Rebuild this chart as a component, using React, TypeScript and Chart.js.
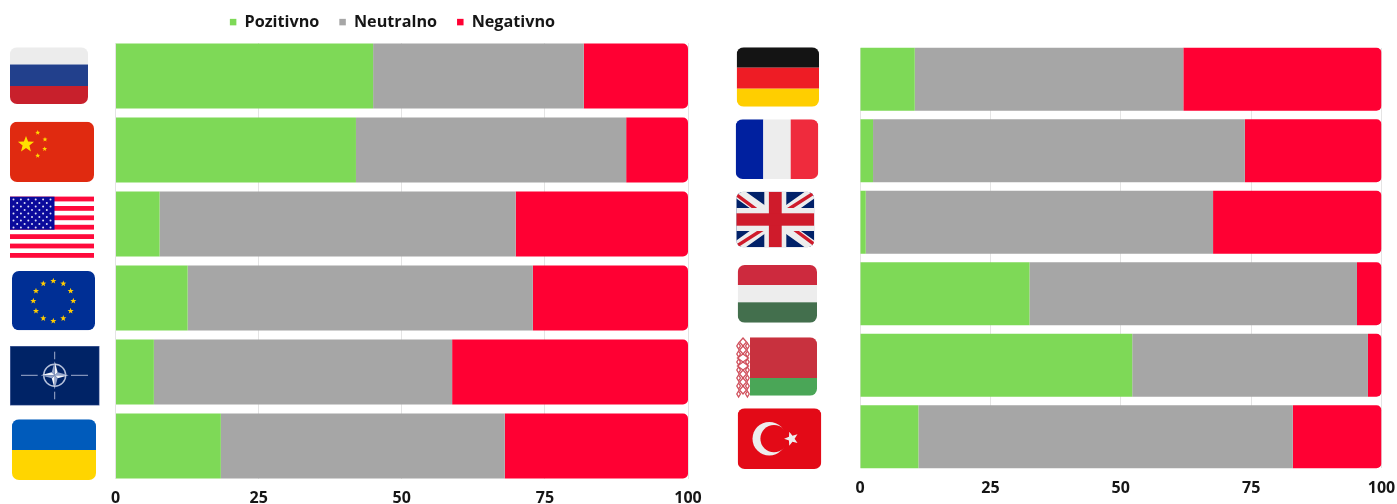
import React, { useEffect, useRef } from "react";
import { Chart, registerables } from "chart.js";

Chart.register(...registerables);

const seriesNames = ["Pozitivno", "Neutralno", "Negativno"];

const leftCategories = ["Rusija", "Kina", "SAD", "EU", "NATO", "Ukrajina"];
const leftPositive = [45, 42, 7.7, 12.6, 6.7, 18.4];
const leftNeutral = [36.8, 47.2, 62.2, 60.3, 52.1, 49.6];
const leftNegative = [18.2, 10.8, 30.1, 27.1, 41.2, 32];

const rightCategories = ["Njemačka", "Francuska", "Velika Britanija", "Mađarska", "Bjelorusija", "Turska"];
const rightPositive = [10.5, 2.5, 1.1, 32.5, 52.2, 11.2];
const rightNeutral = [51.5, 71.3, 66.6, 62.8, 45.2, 71.8];
const rightNegative = [38, 26.2, 32.3, 4.7, 2.6, 17];

const xTicks = [0, 25, 50, 75, 100];

const GREEN = "#7ED957";
const GRAY = "#A6A6A6";
const RED = "#FF0033";
const GRID = "#E4E4E4";
const TEXT = "#161616";
const FONT = "'Open Sans', sans-serif";

type C = CanvasRenderingContext2D;
type Box = [number, number, number, number]; // left, top, right, bottom on the page

function rr(ctx: C, b: Box, r: number) {
  ctx.beginPath();
  ctx.roundRect(b[0], b[1], b[2] - b[0], b[3] - b[1], r);
}
function rect(ctx: C, color: string, x0: number, y0: number, x1: number, y1: number) {
  ctx.fillStyle = color;
  ctx.fillRect(x0, y0, x1 - x0, y1 - y0);
}
function star(ctx: C, cx: number, cy: number, r: number, color: string, rot = -Math.PI / 2) {
  ctx.fillStyle = color;
  ctx.beginPath();
  for (let i = 0; i < 10; i++) {
    const rad = i % 2 === 0 ? r : r * 0.42;
    const a = rot + (i * Math.PI) / 5;
    ctx.lineTo(cx + Math.cos(a) * rad, cy + Math.sin(a) * rad);
  }
  ctx.closePath();
  ctx.fill();
}
function clipped(ctx: C, b: Box, r: number, fn: () => void) {
  ctx.save();
  rr(ctx, b, r);
  ctx.clip();
  fn();
  ctx.restore();
}

const drawRussia = (ctx: C) => {
  const b: Box = [10, 47.3, 88, 104];
  clipped(ctx, b, 7, () => {
    rect(ctx, "#ECECEC", b[0], b[1], b[2], 64.5);
    rect(ctx, "#22408C", b[0], 64.5, b[2], 86);
    rect(ctx, "#C8202C", b[0], 86, b[2], b[3]);
  });
};
const drawChina = (ctx: C) => {
  const b: Box = [10, 121.7, 94, 182];
  clipped(ctx, b, 7, () => {
    rect(ctx, "#E02A10", b[0], b[1], b[2], b[3]);
    star(ctx, 26, 144.5, 8.5, "#FFE000");
    star(ctx, 37.7, 132.7, 2.6, "#FFD800");
    star(ctx, 45, 139.5, 2.6, "#FFD800");
    star(ctx, 44.7, 149, 2.6, "#FFD800");
    star(ctx, 37.7, 155.7, 2.6, "#FFD800");
  });
};
const drawUSA = (ctx: C) => {
  const x0 = 10;
  const x1 = 94;
  for (let i = 0; i < 7; i++) {
    const cy = 199 + i * 9.4;
    rect(ctx, "#FF0A3C", x0, cy - 2.4, x1, cy + 2.4);
  }
  rect(ctx, "#0A0A9B", 10, 196.7, 54.5, 229.7);
  ctx.fillStyle = "#DDE0F5";
  for (let r = 0; r < 9; r++) {
    const n = r % 2 === 0 ? 6 : 5;
    for (let c = 0; c < n; c++) {
      const x = 13.5 + (r % 2 === 0 ? 0 : 3.7) + c * 7.4;
      const y = 199.5 + r * 3.5;
      ctx.beginPath();
      ctx.arc(x, y, 1, 0, Math.PI * 2);
      ctx.fill();
    }
  }
};
const drawEU = (ctx: C) => {
  const b: Box = [12, 271, 95, 330.3];
  clipped(ctx, b, 7, () => {
    rect(ctx, "#002F95", b[0], b[1], b[2], b[3]);
    for (let i = 0; i < 12; i++) {
      const a = (i * Math.PI) / 6;
      star(ctx, 53.3 + Math.cos(a) * 20, 301 + Math.sin(a) * 20, 3.2, "#FFCC00");
    }
  });
};
const drawNato = (ctx: C) => {
  const cx = 54.7;
  const cy = 375.3;
  rect(ctx, "#5B6EA5", 10, 346, 99.5, 405.5);
  rect(ctx, "#002366", 10.6, 346.6, 98.9, 404.9);
  ctx.strokeStyle = "#B4C0DA";
  ctx.lineWidth = 0.9;
  ctx.beginPath();
  ctx.moveTo(21, cy);
  ctx.lineTo(37.7, cy);
  ctx.moveTo(71, cy);
  ctx.lineTo(88, cy);
  ctx.moveTo(cx, 351.7);
  ctx.lineTo(cx, 359.3);
  ctx.moveTo(cx, 391.7);
  ctx.lineTo(cx, 399.3);
  ctx.stroke();
  ctx.lineWidth = 1.4;
  ctx.beginPath();
  ctx.arc(cx, cy, 11, 0, Math.PI * 2);
  ctx.stroke();
  for (let i = 0; i < 4; i++) {
    const a = (i * Math.PI) / 2;
    ctx.fillStyle = "#F4F6FB";
    ctx.beginPath();
    ctx.moveTo(cx, cy);
    ctx.lineTo(cx + Math.cos(a) * 14, cy + Math.sin(a) * 14);
    ctx.lineTo(cx + Math.cos(a + 0.78) * 4.2, cy + Math.sin(a + 0.78) * 4.2);
    ctx.closePath();
    ctx.fill();
    ctx.fillStyle = "#94A5CA";
    ctx.beginPath();
    ctx.moveTo(cx, cy);
    ctx.lineTo(cx + Math.cos(a) * 14, cy + Math.sin(a) * 14);
    ctx.lineTo(cx + Math.cos(a - 0.78) * 4.2, cy + Math.sin(a - 0.78) * 4.2);
    ctx.closePath();
    ctx.fill();
  }
};
const drawUkraine = (ctx: C) => {
  const b: Box = [12, 419.3, 96, 480];
  clipped(ctx, b, 7, () => {
    rect(ctx, "#005BBB", b[0], b[1], b[2], 450);
    rect(ctx, "#FFD500", b[0], 450, b[2], b[3]);
  });
};
const drawGermany = (ctx: C) => {
  const b: Box = [736.7, 47.3, 819, 106.7];
  clipped(ctx, b, 7, () => {
    rect(ctx, "#141414", b[0], b[1], b[2], 67.7);
    rect(ctx, "#EE1C25", b[0], 67.7, b[2], 88.7);
    rect(ctx, "#FFCE00", b[0], 88.7, b[2], b[3]);
  });
};
const drawFrance = (ctx: C) => {
  const b: Box = [735.7, 119.3, 818.3, 179];
  clipped(ctx, b, 7, () => {
    rect(ctx, "#00209F", b[0], b[1], 763.3, b[3]);
    rect(ctx, "#EDEDED", 763.3, b[1], 790.7, b[3]);
    rect(ctx, "#EF2B3D", 790.7, b[1], b[2], b[3]);
  });
};
const drawUK = (ctx: C) => {
  const b: Box = [736.3, 191.7, 814.3, 247.3];
  const cx = 775.3;
  const cy = 219.5;
  clipped(ctx, b, 7, () => {
    rect(ctx, "#012169", b[0], b[1], b[2], b[3]);
    ctx.strokeStyle = "#EDEDED";
    ctx.lineWidth = 11;
    ctx.beginPath();
    ctx.moveTo(b[0], b[1]);
    ctx.lineTo(b[2], b[3]);
    ctx.moveTo(b[2], b[1]);
    ctx.lineTo(b[0], b[3]);
    ctx.stroke();
    ctx.strokeStyle = "#CF1B2B";
    ctx.lineWidth = 3.4;
    ctx.beginPath();
    ctx.moveTo(b[0], b[1] + 3);
    ctx.lineTo(cx - 8, cy - 2);
    ctx.moveTo(b[2], b[3] - 3);
    ctx.lineTo(cx + 8, cy + 2);
    ctx.moveTo(b[2], b[1] + 1);
    ctx.lineTo(cx + 8, cy - 7);
    ctx.moveTo(b[0], b[3] - 1);
    ctx.lineTo(cx - 8, cy + 7);
    ctx.stroke();
    rect(ctx, "#EDEDED", cx - 11, b[1], cx + 11, b[3]);
    rect(ctx, "#EDEDED", b[0], cy - 11.5, b[2], cy + 11.5);
    rect(ctx, "#CF1B2B", cx - 6.4, b[1], cx + 6.4, b[3]);
    rect(ctx, "#CF1B2B", b[0], cy - 6.2, b[2], cy + 6.2);
  });
};
const drawHungary = (ctx: C) => {
  const b: Box = [737.7, 265, 817, 322.7];
  clipped(ctx, b, 7, () => {
    rect(ctx, "#CD2A3E", b[0], b[1], b[2], 285);
    rect(ctx, "#EDEDED", b[0], 285, b[2], 302.3);
    rect(ctx, "#436F4D", b[0], 302.3, b[2], b[3]);
  });
};
const drawBelarus = (ctx: C) => {
  const b: Box = [750, 337.3, 817, 395.7];
  ctx.save();
  ctx.beginPath();
  ctx.roundRect(b[0], b[1], b[2] - b[0], b[3] - b[1], [0, 7, 7, 0]);
  ctx.clip();
  rect(ctx, "#C8313E", b[0], b[1], b[2], 378);
  rect(ctx, "#4AA657", b[0], 378, b[2], b[3]);
  ctx.restore();
  ctx.strokeStyle = "#D0505C";
  ctx.lineWidth = 1.3;
  const diamond = (x: number, y: number, rx: number, ry: number) => {
    ctx.beginPath();
    ctx.moveTo(x, y - ry);
    ctx.lineTo(x + rx, y);
    ctx.lineTo(x, y + ry);
    ctx.lineTo(x - rx, y);
    ctx.closePath();
    ctx.stroke();
  };
  [342, 350, 358, 366, 374, 382, 390].forEach((y, i) => {
    const big = i === 2 || i === 3;
    diamond(743, y, big ? 5.5 : 3.5, 4);
    diamond(738.6, y + 4, 1.8, 3);
    diamond(747.4, y + 4, 1.8, 3);
  });
};
const drawTurkey = (ctx: C) => {
  const b: Box = [737.7, 408.3, 821.3, 469];
  clipped(ctx, b, 7, () => {
    rect(ctx, "#E30A17", b[0], b[1], b[2], b[3]);
    ctx.fillStyle = "#EDEDED";
    ctx.beginPath();
    ctx.arc(769.3, 438.7, 16.8, 0, Math.PI * 2);
    ctx.fill();
    ctx.fillStyle = "#E30A17";
    ctx.beginPath();
    ctx.arc(774, 438.7, 13.6, 0, Math.PI * 2);
    ctx.fill();
    star(ctx, 791.5, 438.7, 7.4, "#EDEDED", Math.PI);
  });
};

const leftFlags = [drawRussia, drawChina, drawUSA, drawEU, drawNato, drawUkraine];
const rightFlags = [drawGermany, drawFrance, drawUK, drawHungary, drawBelarus, drawTurkey];

function flagPlugin(draws: ((c: C) => void)[], pageLeft: number, pageTop: number) {
  return {
    id: "flags",
    afterDraw(chart: any) {
      const ctx = chart.ctx as C;
      ctx.save();
      ctx.translate(-pageLeft, -pageTop);
      draws.forEach((d) => d(ctx));
      ctx.restore();
    },
  };
}

// Grid lines only run from the first bar's top to the last bar's bottom.
const trimGridPlugin = {
  id: "trimGrid",
  beforeDatasetsDraw(chart: any) {
    const bars = chart.getDatasetMeta(0).data;
    const { top, bottom, left, right } = chart.chartArea;
    const first = bars[0];
    const last = bars[bars.length - 1];
    const ctx = chart.ctx as C;
    ctx.clearRect(left - 2, top - 2, right - left + 4, first.y - first.height / 2 - top + 2);
    const lastBottom = last.y + last.height / 2;
    ctx.clearRect(left - 2, lastBottom, right - left + 4, bottom - lastBottom + 1);
  },
};

// Gives the legend a fixed block height so the plot can start right below it.
function legendHeightPlugin(height: number) {
  return {
    id: "legendHeight",
    beforeLayout(chart: any) {
      const l = chart.legend;
      if (l && !l.__fixed) {
        const fit = l.fit;
        l.fit = function () {
          fit.call(this);
          this.height = height;
        };
        l.__fixed = true;
      }
    },
  };
}

function makeChart(
  canvas: HTMLCanvasElement,
  labels: string[],
  pos: number[],
  neu: number[],
  neg: number[],
  cfg: {
    padding: any;
    yWidth: number;
    xHeight: number;
    legend: boolean;
    plugins: any[];
  }
) {
  const r = 5;
  return new Chart(canvas, {
    type: "bar",
    data: {
      labels,
      datasets: [
        { label: seriesNames[0], data: pos, backgroundColor: GREEN },
        { label: seriesNames[1], data: neu, backgroundColor: GRAY },
        {
          label: seriesNames[2],
          data: neg,
          backgroundColor: RED,
          borderRadius: { topLeft: 0, bottomLeft: 0, topRight: r, bottomRight: r },
          borderSkipped: false,
        },
      ],
    },
    plugins: [trimGridPlugin, ...cfg.plugins],
    options: {
      indexAxis: "y",
      responsive: false,
      animation: false,
      layout: { padding: cfg.padding, autoPadding: false },
      datasets: { bar: { barPercentage: 0.88, categoryPercentage: 1 } },
      plugins: {
        tooltip: { enabled: false },
        title: { display: false },
        legend: {
          display: cfg.legend,
          position: "top",
          labels: {
            boxWidth: 6.5,
            boxHeight: 6.5,
            padding: 20,
            color: TEXT,
            font: { family: FONT, size: 16.2, weight: "700" },
          },
        },
      },
      scales: {
        x: {
          stacked: true,
          min: 0,
          max: 100,
          afterBuildTicks: (s: any) => {
            s.ticks = xTicks.map((value) => ({ value }));
          },
          afterFit: (s: any) => {
            s.height = cfg.xHeight;
          },
          grid: { color: GRID, drawTicks: true, tickLength: 6, tickColor: "transparent", lineWidth: 1 },
          border: { display: false },
          ticks: {
            padding: 0,
            color: TEXT,
            maxRotation: 0,
            font: { family: FONT, size: 16, weight: "700" },
          },
        },
        y: {
          stacked: true,
          afterFit: (s: any) => {
            s.width = cfg.yWidth;
          },
          grid: { display: false },
          border: { display: false },
          ticks: { display: false },
        },
      },
    } as any,
  });
}

export default function App() {
  const leftRef = useRef<HTMLCanvasElement>(null);
  const rightRef = useRef<HTMLCanvasElement>(null);

  useEffect(() => {
    const a = makeChart(leftRef.current!, leftCategories, leftPositive, leftNeutral, leftNegative, {
      padding: { left: 97, right: 96, top: 0, bottom: 0 },
      yWidth: 18.5,
      xHeight: 21,
      legend: true,
      plugins: [legendHeightPlugin(45), flagPlugin(leftFlags, 0, -6)],
    });
    const b = makeChart(rightRef.current!, rightCategories, rightPositive, rightNeutral, rightNegative, {
      padding: { left: 140, right: 15.5, top: 43.5, bottom: 0 },
      yWidth: 0,
      xHeight: 31.5,
      legend: false,
      plugins: [flagPlugin(rightFlags, 720, 0)],
    });
    return () => {
      a.destroy();
      b.destroy();
    };
  }, []);

  return (
    <div style={{ position: "fixed", left: 0, top: 0, width: 1397, height: 504, background: "#fff", overflow: "hidden" }}>
      <canvas ref={leftRef} width={784} height={510} style={{ position: "absolute", left: 0, top: -6, width: 784, height: 510 }} />
      <canvas ref={rightRef} width={677} height={504} style={{ position: "absolute", left: 720, top: 0, width: 677, height: 504 }} />
    </div>
  );
}
